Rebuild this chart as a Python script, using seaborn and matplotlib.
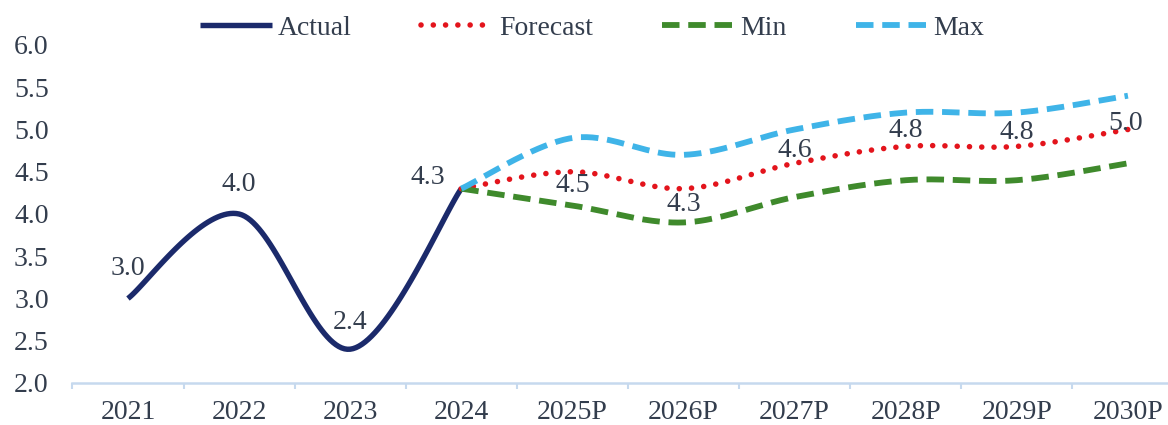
import numpy as np
import pandas as pd
import matplotlib
matplotlib.use("Agg")
import matplotlib.pyplot as plt
import seaborn as sns
from matplotlib.ticker import FixedLocator

years = ["2021", "2022", "2023", "2024", "2025P", "2026P", "2027P", "2028P", "2029P", "2030P"]
actual = [3.0, 4.0, 2.4, 4.3]
forecast = [4.3, 4.5, 4.3, 4.6, 4.8, 4.8, 5.0]
min_vals = [4.3, 4.1, 3.9, 4.2, 4.4, 4.4, 4.6]
max_vals = [4.3, 4.9, 4.7, 5.0, 5.2, 5.2, 5.4]
yticks = [2.0, 2.5, 3.0, 3.5, 4.0, 4.5, 5.0, 5.5, 6.0]

sns.set_theme(style="white")
plt.rcParams["font.family"] = ["Liberation Serif", "DejaVu Serif"]
TXT = "#333d4d"


def smooth(xs, ys, n=40):
    pts = np.column_stack([xs, ys]).astype(float)
    out = []
    m = len(pts)
    for i in range(m - 1):
        p0 = pts[i - 1] if i > 0 else pts[i]
        p1, p2 = pts[i], pts[i + 1]
        p3 = pts[i + 2] if i + 2 < m else pts[i + 1]
        c1 = p1 + (p2 - p0) / 6.0
        c2 = p2 - (p3 - p1) / 6.0
        t = np.linspace(0, 1, n)[:, None]
        seg = ((1 - t) ** 3) * p1 + 3 * ((1 - t) ** 2) * t * c1 + 3 * (1 - t) * t ** 2 * c2 + t ** 3 * p2
        if i > 0:
            seg = seg[1:]
        out.append(seg)
    arr = np.vstack(out)
    return arr[:, 0], arr[:, 1]


fig = plt.figure(figsize=(11.68, 4.25), dpi=100)
ax = fig.add_axes([72.4 / 1168, 1 - 383 / 425, 1111.1 / 1168, (383 - 45) / 425])

x_act = np.arange(len(actual))
x_fc = np.arange(len(actual) - 1, len(years))

series = [
    ("Actual", x_act, actual, "#1b2a6b", 3.9, None),
    ("Forecast", x_fc, forecast, "#e3141c", 4.0, "dot"),
    ("Min", x_fc, min_vals, "#3f8a2c", 4.2, "dash"),
    ("Max", x_fc, max_vals, "#3fb4e8", 4.2, "dash"),
]
handles = []
for name, xs, ys, col, lw, style in series:
    sx, sy = smooth(xs, ys)
    df = pd.DataFrame({"x": sx, "y": sy})
    sns.lineplot(data=df, x="x", y="y", sort=False, estimator=None, ax=ax,
                 color=col, linewidth=lw, label=name)
    ln = ax.lines[-1]
    if style == "dot":
        ln.set_dashes([0.01, 2.2])
        ln.set_dash_capstyle("round")
    elif style == "dash":
        ln.set_dashes([3.0, 1.5])
        ln.set_dash_capstyle("butt")
    else:
        ln.set_solid_capstyle("butt")
    handles.append(ln)

ax.set_xlim(-0.5, 9.5)
ax.set_ylim(2.0, 6.0)
ax.set_xlabel("")
ax.set_ylabel("")

ax.set_xticks(range(len(years)))
ax.set_xticklabels(years)
ax.xaxis.set_minor_locator(FixedLocator(np.arange(-0.5, 10.0, 1.0)))
ax.tick_params(axis="x", which="major", length=0, pad=12, labelsize=20, labelcolor=TXT)
ax.tick_params(axis="x", which="minor", length=4, width=1.5, color="#c6d9ee", direction="out", bottom=True)
ax.set_yticks(yticks)
ax.set_yticklabels([f"{v:.1f}" for v in yticks])
ax.tick_params(axis="y", length=0, pad=17, labelsize=20, labelcolor=TXT)

for s in ["top", "right", "left"]:
    ax.spines[s].set_visible(False)
ax.spines["bottom"].set_color("#c6d9ee")
ax.spines["bottom"].set_linewidth(1.8)
ax.grid(False)

def lab(x, y, txt, dx, dy):
    ax.annotate(txt, (x, y), xytext=(dx, dy), textcoords="offset pixels",
                ha="center", va="center", fontsize=20, color=TXT)

lab(0, actual[0], "3.0", 0, 30)
lab(1, actual[1], "4.0", 0, 29)
lab(2, actual[2], "2.4", 0, 27)
lab(3, actual[3], "4.3", -33, 11)
fc_off = [None, -14, -16, 13, 16, 14, 6]
for i in range(1, len(forecast)):
    lab(x_fc[i], forecast[i], f"{forecast[i]:.1f}", -2 if i == len(forecast) - 1 else 0, fc_off[i])

ax.get_legend().remove()
fig.legend(handles=handles, labels=[h.get_label() for h in handles], loc="center",
           bbox_to_anchor=(0.507, 0.934), ncol=4, frameon=False, fontsize=20,
           handlelength=2.6, handletextpad=0.2, columnspacing=2.5, labelcolor=TXT)

fig.savefig("out.png", dpi=100)
